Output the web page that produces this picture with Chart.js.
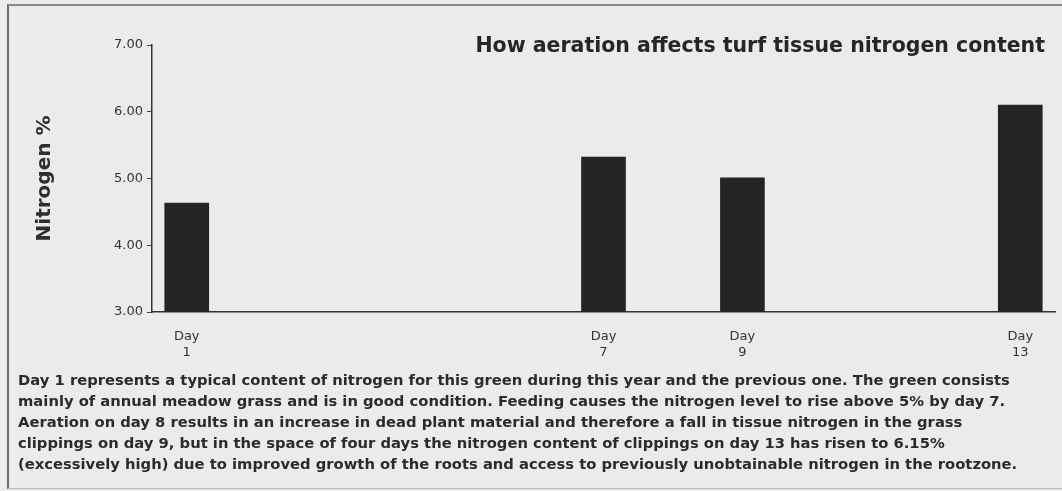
<!DOCTYPE html>
<html>
<head>
<meta charset="utf-8">
<title>How aeration affects turf tissue nitrogen content</title>
<script src="https://cdn.jsdelivr.net/npm/chart.js@4"></script>
<style>
  html, body { margin: 0; padding: 0; background: #ebebea; }
  #page { position: relative; width: 1062px; height: 491px; overflow: hidden; }
  #frame { position: absolute; left: 7px; top: 4px; width: 1080px; height: 482px;
           border-left: 2px solid #6d6d6d; border-top: 2px solid #8a8a8a; border-bottom: 1px solid #b8b8b8; }
  #chartBox { position: absolute; left: 0; top: 0; width: 1062px; height: 370px; }
  #title { position: absolute; right: 17px; top: 33px; font: bold 20.5px "DejaVu Sans", sans-serif;
           color: #262626; white-space: nowrap; }
  #caption { position: absolute; left: 18px; top: 369px; font: bold 14.75px "DejaVu Sans", sans-serif;
             line-height: 21px; color: #2b2b2b; white-space: nowrap; }
</style>
</head>
<body>
<div id="page">
  <div id="frame"></div>
  <div id="chartBox"><canvas id="nitrogenChart"></canvas></div>
  <div id="title">How aeration affects turf tissue nitrogen content</div>
  <div id="caption">
    Day 1 represents a typical content of nitrogen for this green during this year and the previous one. The green consists<br>
    mainly of annual meadow grass and is in good condition. Feeding causes the nitrogen level to rise above 5% by day 7.<br>
    Aeration on day 8 results in an increase in dead plant material and therefore a fall in tissue nitrogen in the grass<br>
    clippings on day 9, but in the space of four days the nitrogen content of clippings on day 13 has risen to 6.15%<br>
    (excessively high) due to improved growth of the roots and access to previously unobtainable nitrogen in the rootzone.
  </div>
</div>
<script>
// x axis runs day by day, only some days were sampled
const allDays = [1, 2, 3, 4, 5, 6, 7, 8, 9, 10, 11, 12, 13];
const sampledDays = [1, 7, 9, 13];
const nitrogenPct = [4.63, 5.32, 5.01, 6.10];
const yTicks = [3, 4, 5, 6, 7];

const labels = allDays.map(d => sampledDays.includes(d) ? ['Day', String(d)] : '');
const values = allDays.map(d => {
    const i = sampledDays.indexOf(d);
    return i >= 0 ? nitrogenPct[i] : null;
});

const ctx = document.getElementById('nitrogenChart');
new Chart(ctx, {
    type: 'bar',
    data: {
        labels: labels,
        datasets: [{
            label: 'Nitrogen %',
            data: values,
            backgroundColor: '#242424',
            borderWidth: 0,
            barThickness: 44
        }]
    },
    options: {
        responsive: true,
        maintainAspectRatio: false,
        animation: false,
        layout: { padding: { left: 33, top: 45, right: 7, bottom: 0 } },
        plugins: {
            legend: { display: false },
            tooltip: { enabled: false }
        },
        scales: {
            x: {
                grid: { display: false, drawTicks: false },
                border: { display: true, color: '#333', width: 1.5 },
                ticks: {
                    autoSkip: false,
                    maxRotation: 0,
                    padding: 16,
                    color: '#333',
                    font: { family: 'DejaVu Sans', size: 13, lineHeight: 1.25 }
                },
                afterFit: s => { s.height = 58; }
            },
            y: {
                min: yTicks[0],
                max: yTicks[yTicks.length - 1],
                afterBuildTicks: s => { s.ticks = yTicks.map(v => ({ value: v })); },
                grid: { drawOnChartArea: false, drawTicks: true, tickLength: 5, color: '#444' },
                border: { display: true, color: '#333', width: 1.5 },
                ticks: {
                    padding: 4,
                    color: '#333',
                    font: { family: 'DejaVu Sans', size: 13 },
                    callback: v => Number(v).toFixed(2)
                },
                title: {
                    display: true,
                    text: 'Nitrogen %',
                    color: '#2e2e2e',
                    font: { family: 'DejaVu Sans', size: 20, weight: 'bold' },
                    padding: { top: 0, bottom: 0 }
                },
                afterFit: s => { s.width = 152 - 33; }
            }
        }
    }
});
</script>
</body>
</html>
